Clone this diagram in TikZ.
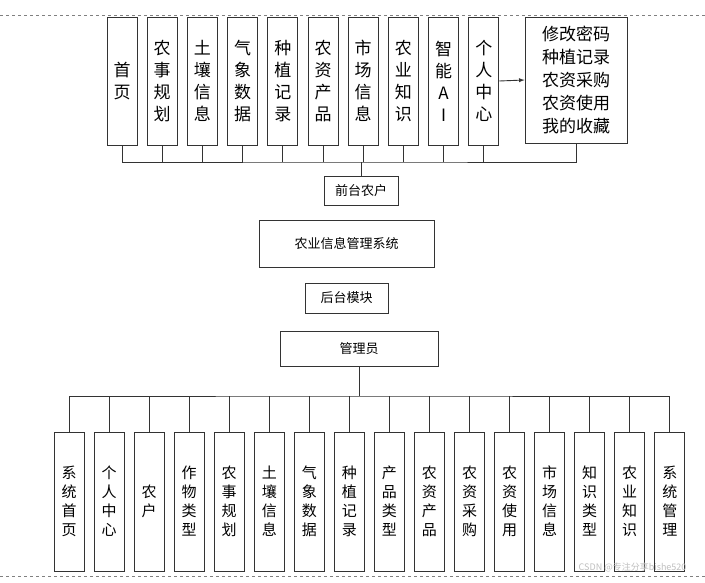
\documentclass[tikz,border=0pt]{standalone}
\usepackage{fontspec}
\setmainfont{Noto Sans CJK SC}
\begin{document}
\begin{tikzpicture}[x=1pt,y=-1pt,
  box/.style={draw=black!80,line width=0.9pt,fill=white,inner sep=0pt},
  vt/.style={box,minimum width=30pt,minimum height=128pt,font=\fontsize{17}{22}\selectfont,align=center},
  vb/.style={box,minimum width=30pt,minimum height=139pt,font=\fontsize{15}{19}\selectfont,align=center},
  mid/.style={box,font=\fontsize{13}{15}\selectfont},
  ln/.style={draw=black!80,line width=0.9pt}]
\useasboundingbox (0,0) rectangle (705,582);
\draw[gray,dashed,line width=0.5pt] (0,15) -- (705,15) (0,576) -- (705,576);
\foreach \t [count=\i] in {首\\页,农\\事\\规\\划,土\\壤\\信\\息,气\\象\\数\\据,种\\植\\记\\录,农\\资\\产\\品,市\\场\\信\\息,农\\业\\知\\识,智\\能\\A\\I,个\\人\\中\\心}{
  \node[vt] (t\i) at ({122+40.2*(\i-1)},81) {\t};
}
\node[box,minimum width=102pt,minimum height=126pt,font=\fontsize{17}{23}\selectfont,align=center] (big) at (576,80) {修改密码\\种植记录\\农资采购\\农资使用\\我的收藏};
\draw[ln,-latex] (t10.east) -- (big.west);
\node[mid,minimum width=74pt,minimum height=29pt] (qt) at (361,190.5) {前台农户};
\node[mid,minimum width=175pt,minimum height=47pt] (sys) at (346.5,243.5) {农业信息管理系统};
\node[mid,minimum width=83pt,minimum height=30pt] (ht) at (346.5,298) {后台模块};
\node[mid,minimum width=158pt,minimum height=35pt] (adm) at (359,348.5) {管理员};
\coordinate (bt) at (361,162);
\draw[ln] (t1.south) |- (bt) -| (big.south);
\foreach \i in {2,...,10} \draw[ln] (t\i.south) -- (t\i.south |- bt);
\draw[ln] (bt) -- (qt.north);
\foreach \t [count=\i] in {系\\统\\首\\页,个\\人\\中\\心,农\\户,作\\物\\类\\型,农\\事\\规\\划,土\\壤\\信\\息,气\\象\\数\\据,种\\植\\记\\录,产\\品\\类\\型,农\\资\\产\\品,农\\资\\采\\购,农\\资\\使\\用,市\\场\\信\\息,知\\识\\类\\型,农\\业\\知\\识,系\\统\\管\\理}{
  \node[vb] (b\i) at ({69+40.05*(\i-1)},501.5) {\t};
}
\coordinate (bb) at (adm.south |- 0,396);
\draw[ln] (adm.south) -- (bb);
\draw[ln] (b1.north) |- (bb) -| (b16.north);
\foreach \i in {2,...,15} \draw[ln] (b\i.north) -- (b\i.north |- bb);
\node[text=black!25,font=\fontsize{9}{10}\selectfont,anchor=east] (wm) at (690,567) {CSDN @专注分享bishe520};
\end{tikzpicture}
\end{document}
